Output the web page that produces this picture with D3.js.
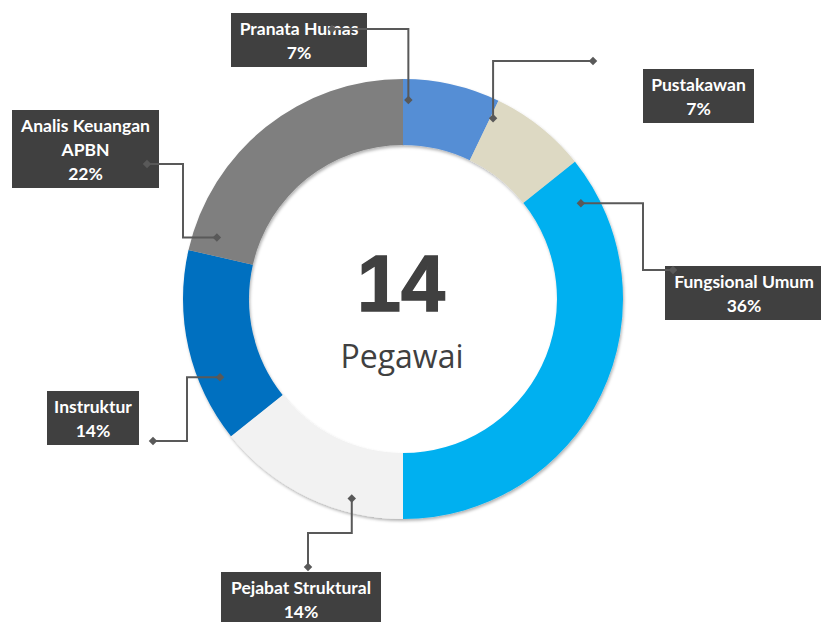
<!DOCTYPE html>
<html>
<head>
<meta charset="utf-8">
<script src="https://cdn.jsdelivr.net/npm/d3@7"></script>
<style>
  body { margin: 0; background: #fff; }
  svg { display: block; }
</style>
</head>
<body>
<svg id="chart" width="821" height="622"></svg>
<script>
// data
var categories = ["Pranata Humas", "Pustakawan", "Fungsional Umum", "Pejabat Struktural", "Instruktur", "Analis Keuangan APBN"];
var labelLines = [["Pranata Humas"], ["Pustakawan"], ["Fungsional Umum"], ["Pejabat Struktural"], ["Instruktur"], ["Analis Keuangan", "APBN"]];
var values = [1, 1, 5, 2, 2, 3];
var pctLabels = ["7%", "7%", "36%", "14%", "14%", "22%"];
var centerCaption = "Pegawai";

// styles / layout
var colors = ["#558ED5", "#DDD9C3", "#00B0F0", "#F2F2F2", "#0070C0", "#7F7F7F"];
var cx = 403, cy = 299, rOuter = 220, rInner = 154;

// label boxes and leader routes (v = go vertical to y, h = go horizontal to x)
var boxes = [
    {x: 231, y: 13,  w: 136, t: 0.06, r: 199, route: [["v", 29], ["h", 332]]},
    {x: 643, y: 69,  w: 111, t: 0.03, r: 202, route: [["v", 61], ["h", 593]]},
    {x: 665, y: 266, w: 158, t: 0.08, r: 202, route: [["h", 643], ["v", 270], ["h", 673]]},
    {x: 221, y: 572, w: 160, t: 0.28, r: 206, route: [["v", 533], ["h", 308], ["v", 567]]},
    {x: 47,  y: 391, w: 92,  t: 0.30, r: 199, route: [["h", 187], ["v", 441], ["h", 153]]},
    {x: 12,  y: 110, w: 147, t: 0.07, r: 196, route: [["h", 183], ["v", 164], ["h", 147]]}
];

var svg = d3.select("#chart");

var defs = svg.append("defs");
var f = defs.append("filter").attr("id", "shadow")
    .attr("x", "-10%").attr("y", "-10%").attr("width", "120%").attr("height", "120%");
f.append("feDropShadow")
    .attr("dx", 1).attr("dy", 2).attr("stdDeviation", 1.5)
    .attr("flood-color", "#000").attr("flood-opacity", 0.3);

var pie = d3.pie().sort(null).value(d => d);
var arcs = pie(values);
var arc = d3.arc().innerRadius(rInner).outerRadius(rOuter);

var g = svg.append("g").attr("transform", `translate(${cx},${cy})`);

g.append("g")
    .attr("filter", "url(#shadow)")
    .selectAll("path")
    .data(arcs)
    .enter().append("path")
    .attr("d", arc)
    .attr("fill", (d, i) => colors[i]);

// center text
g.append("text")
    .attr("x", -2).attr("y", 12)
    .attr("text-anchor", "middle")
    .style("font-family", "'Liberation Sans', Arial, sans-serif")
    .style("font-weight", "bold")
    .style("font-size", "79px")
    .attr("fill", "#404040")
    .attr("stroke", "#404040")
    .attr("stroke-width", 1.5)
    .text(d3.sum(values));

g.append("text")
    .attr("x", -1).attr("y", 69)
    .attr("text-anchor", "middle")
    .style("font-family", "'Open Sans', sans-serif")
    .style("font-size", "32px")
    .attr("fill", "#404040")
    .text(centerCaption);

// labels
var labels = svg.append("g");
boxes.forEach(function(b, i) {
    var lines = labelLines[i].concat([pctLabels[i]]);
    var h = lines.length * 24 + 6;
    labels.append("rect")
        .attr("x", b.x).attr("y", b.y)
        .attr("width", b.w).attr("height", h)
        .attr("fill", "#404040");
    lines.forEach(function(txt, j) {
        labels.append("text")
            .attr("x", b.x + b.w / 2)
            .attr("y", b.y + 22 + j * 24)
            .attr("text-anchor", "middle")
            .style("font-family", "Lato, 'Noto Sans', sans-serif")
            .style("font-weight", "bold")
            .style("font-size", "17.5px")
            .attr("fill", "#fff")
            .text(txt);
    });
});

// leader lines
var leaders = svg.append("g");
boxes.forEach(function(b, i) {
    var a = arcs[i];
    var ang = a.startAngle + b.t * (a.endAngle - a.startAngle);
    var px = cx + Math.sin(ang) * b.r,
        py = cy - Math.cos(ang) * b.r;
    var pts = [[px, py]];
    var x = px, y = py;
    b.route.forEach(function(s) {
        if (s[0] == "v") y = s[1]; else x = s[1];
        pts.push([x, y]);
    });
    leaders.append("path")
        .attr("d", d3.line()(pts))
        .attr("fill", "none")
        .attr("stroke", "#595959")
        .attr("stroke-width", 2);
    [pts[0], pts[pts.length - 1]].forEach(function(p) {
        leaders.append("path")
            .attr("d", d3.symbol(d3.symbolSquare, 36)())
            .attr("transform", `translate(${p[0]},${p[1]}) rotate(45)`)
            .attr("fill", "#595959");
    });
});
</script>
</body>
</html>
